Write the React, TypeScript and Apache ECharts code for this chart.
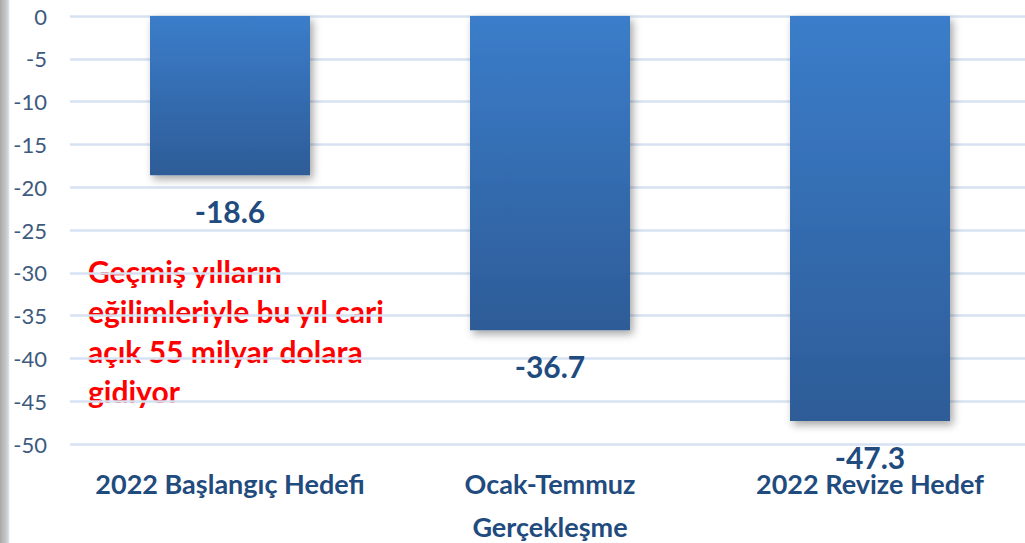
import React, { useEffect, useRef } from "react";
import * as echarts from "echarts";

const categories = ["2022 Başlangıç Hedefi", "Ocak-Temmuz\n{g|Gerçekleşme}", "2022 Revize Hedef"];
const values = [-18.6, -36.7, -47.3];
const annotationLines = [
  "Geçmiş yılların",
  "eğilimleriyle bu yıl cari",
  "açık 55 milyar dolara",
  "gidiyor",
];
const yMin = -50;
const yMax = 0;
const yStep = 5;

const FONT = "Lato, 'Open Sans', sans-serif";
const DARK = "#1F4B7E";

export default function App() {
  const ref = useRef<HTMLDivElement>(null);
  useEffect(() => {
    if (!ref.current) return;
    const chart = echarts.init(ref.current, undefined, { renderer: "svg" });
    chart.setOption({
      animation: false,
      backgroundColor: "#ffffff",
      grid: {
        left: 70,
        width: 960,
        top: 16,
        height: 428,
        containLabel: false,
        outerBoundsMode: "none",
      },
      xAxis: {
        type: "category",
        data: categories,
        position: "bottom",
        axisLine: { show: false },
        axisTick: { show: false },
        axisLabel: {
          interval: 0,
          margin: 26,
          color: DARK,
          fontFamily: FONT,
          fontWeight: "bold",
          fontSize: 27,
          lineHeight: 27,
          rich: {
            g: {
              color: DARK,
              fontFamily: FONT,
              fontWeight: "bold",
              fontSize: 27,
              lineHeight: 59,
            },
          },
        },
      },
      yAxis: {
        type: "value",
        min: yMin,
        max: yMax,
        interval: yStep,
        axisLine: { show: false },
        axisTick: { show: false },
        axisLabel: {
          margin: 23,
          color: "#3E5A7E",
          fontFamily: FONT,
          fontSize: 22,
        },
        splitLine: { lineStyle: { color: "#D6E2F2", width: 2.5 } },
      },
      series: [
        {
          type: "bar",
          data: values,
          barWidth: "50%",
          itemStyle: {
            color: new echarts.graphic.LinearGradient(0, 0, 0, 1, [
              { offset: 0, color: "#3B7DCA" },
              { offset: 1, color: "#2D5C97" },
            ]),
            shadowBlur: 8,
            shadowOffsetX: 3,
            shadowOffsetY: 4,
            shadowColor: "rgba(0,0,0,0.35)",
          },
          label: {
            show: true,
            position: "bottom",
            distance: 25,
            color: DARK,
            fontFamily: FONT,
            fontWeight: "bold",
            fontSize: 30,
            lineHeight: 22,
          },
        },
      ],
      graphic: [
        {
          type: "rect",
          left: 0,
          top: 0,
          shape: { x: 0, y: 0, width: 8, height: 543 },
          style: {
            fill: new echarts.graphic.LinearGradient(0, 0, 1, 0, [
              { offset: 0, color: "#A8A8A8" },
              { offset: 1, color: "#D2D2D2" },
            ]),
          },
        },
        {
          type: "line",
          shape: { x1: 8.5, y1: 0, x2: 8.5, y2: 543 },
          style: { stroke: "#D3DFEF", lineWidth: 1.5 },
        },
        {
          type: "text",
          x: 88,
          y: 251,
          style: {
            text: annotationLines.join("\n"),
            fill: "#FF0000",
            font: `bold 30px ${FONT}`,
            lineHeight: 40,
            textVerticalAlign: "top",
            textAlign: "left",
          },
        },
      ],
    });
    return () => chart.dispose();
  }, []);
  return (
    <div
      ref={ref}
      style={{ position: "fixed", left: 0, top: 0, width: 1025, height: 543 }}
    />
  );
}
